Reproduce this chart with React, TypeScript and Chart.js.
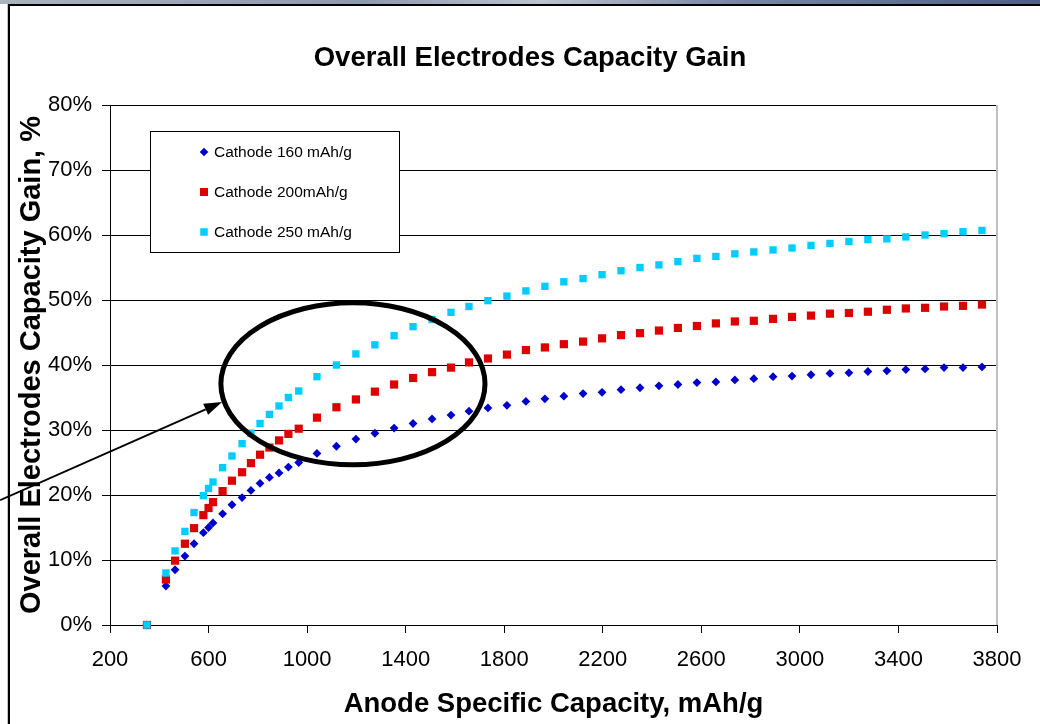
import { useEffect, useRef } from 'react';
import { Chart, registerables } from 'chart.js';

Chart.register(...registerables);

// ---------- data ----------
const anodeCapacity = [
  350, 427, 464, 504, 541, 579, 600, 618, 657, 695, 736, 772, 809, 847, 886, 924, 966,
  1040, 1119, 1198, 1275, 1353, 1430, 1507, 1584, 1657, 1734, 1811, 1888, 1965, 2042,
  2120, 2197, 2274, 2351, 2428, 2505, 2582, 2659, 2736, 2813, 2891, 2968, 3045, 3122,
  3199, 3276, 3353, 3430, 3508, 3585, 3662, 3739,
];
const gainCathode160 = [
  0, 6.0, 8.5, 10.6, 12.5, 14.2, 15.0, 15.7, 17.1, 18.5, 19.6, 20.7, 21.8, 22.7, 23.4, 24.3, 25.0,
  26.4, 27.5, 28.6, 29.5, 30.3, 31.0, 31.7, 32.3, 32.9, 33.4, 33.8, 34.4, 34.8, 35.2,
  35.6, 35.8, 36.2, 36.5, 36.8, 37.0, 37.3, 37.4, 37.7, 37.9, 38.2, 38.3, 38.5, 38.7,
  38.8, 39.0, 39.1, 39.3, 39.4, 39.6, 39.6, 39.7,
];
const gainCathode200 = [
  0, 7.0, 9.9, 12.5, 14.9, 16.9, 18.0, 18.9, 20.6, 22.2, 23.5, 24.9, 26.2, 27.3, 28.4, 29.4, 30.2,
  31.9, 33.5, 34.7, 35.9, 37.0, 38.0, 38.9, 39.6, 40.4, 41.0, 41.6, 42.3, 42.7, 43.2,
  43.6, 44.1, 44.6, 44.9, 45.3, 45.7, 46.0, 46.4, 46.7, 46.8, 47.1, 47.4, 47.6, 47.9,
  48.0, 48.2, 48.5, 48.7, 48.8, 49.0, 49.1, 49.3,
];
const gainCathode250 = [
  0, 8.0, 11.4, 14.4, 17.3, 19.9, 21.0, 22.0, 24.2, 26.0, 27.9, 29.5, 31.0, 32.4, 33.7, 35.0, 36.0,
  38.2, 40.0, 41.7, 43.1, 44.5, 45.9, 47.0, 48.1, 49.0, 49.9, 50.6, 51.4, 52.1, 52.8,
  53.3, 53.9, 54.5, 55.0, 55.4, 55.9, 56.4, 56.7, 57.1, 57.4, 57.7, 58.0, 58.4, 58.7,
  59.0, 59.3, 59.4, 59.7, 60.0, 60.2, 60.5, 60.7,
];
const seriesLabels = ['Cathode 160 mAh/g', 'Cathode 200mAh/g', 'Cathode 250 mAh/g'];
const chartTitle = 'Overall Electrodes Capacity Gain';
const xTitle = 'Anode Specific Capacity, mAh/g';
const yTitle = 'Overall Electrodes Capacity Gain, %';
const xMin = 200;
const xMax = 3800;
const xStep = 400;
const yMin = 0;
const yMax = 80;
const yStep = 10;

// annotation (ellipse + arrow) in data units
const ellipseCenter = { x: 1186, y: 37.1 };
const ellipseRadius = { x: 536, y: 12.46 };
const arrowFrom = { x: -246, y: 19.2 };
const arrowTo = { x: 655, y: 34.3 };

const FONT = '"Liberation Sans", Arial, Helvetica, sans-serif';

const toPoints = (ys: number[]) => anodeCapacity.map((x, i) => ({ x, y: ys[i] }));

const boxLegend = {
  id: 'boxLegend',
  afterDraw(chart: any) {
    const { ctx, chartArea } = chart;
    const x0 = chartArea.left + 40;
    const y0 = chartArea.top + 26;
    const w = 249;
    const h = 121;
    ctx.save();
    ctx.fillStyle = '#ffffff';
    ctx.fillRect(x0, y0, w, h);
    ctx.strokeStyle = '#000000';
    ctx.lineWidth = 1;
    ctx.strokeRect(x0 + 0.5, y0 + 0.5, w, h);
    chart.data.datasets.forEach((ds: any, i: number) => {
      if (!ds.label) return;
      const cy = y0 + 21 + i * 40;
      const cx = x0 + 54;
      ctx.fillStyle = ds.backgroundColor;
      ctx.beginPath();
      if (ds.pointStyle === 'rectRot') {
        const r = 4.3;
        ctx.moveTo(cx - r, cy);
        ctx.lineTo(cx, cy - r);
        ctx.lineTo(cx + r, cy);
        ctx.lineTo(cx, cy + r);
        ctx.closePath();
      } else {
        const s = ds.legendSize;
        ctx.rect(cx - s / 2, cy - s / 2, s, s);
      }
      ctx.fill();
      ctx.fillStyle = '#000000';
      ctx.font = `15.5px ${FONT}`;
      ctx.textBaseline = 'middle';
      ctx.textAlign = 'left';
      ctx.fillText(ds.label, x0 + 64, cy + 1);
    });
    ctx.restore();
  },
};

const plotBorder = {
  id: 'plotBorder',
  beforeDatasetsDraw(chart: any) {
    const { ctx, chartArea } = chart;
    ctx.save();
    ctx.strokeStyle = '#c0c0c0';
    ctx.lineWidth = 2;
    ctx.beginPath();
    ctx.moveTo(chartArea.right, chartArea.top);
    ctx.lineTo(chartArea.right, chartArea.bottom);
    ctx.stroke();
    ctx.restore();
  },
};

const annotations = {
  id: 'annotations',
  afterDraw(chart: any) {
    const { ctx } = chart;
    const xs = chart.scales.x;
    const ys = chart.scales.y;
    const cx = xs.getPixelForValue(ellipseCenter.x);
    const cy = ys.getPixelForValue(ellipseCenter.y);
    const rx = Math.abs(xs.getPixelForValue(ellipseCenter.x + ellipseRadius.x) - cx);
    const ry = Math.abs(ys.getPixelForValue(ellipseCenter.y + ellipseRadius.y) - cy);
    ctx.save();
    ctx.strokeStyle = '#000000';
    ctx.lineWidth = 5;
    ctx.beginPath();
    ctx.ellipse(cx, cy, rx, ry, 0, 0, Math.PI * 2);
    ctx.stroke();

    const x1 = xs.getPixelForValue(arrowFrom.x);
    const y1 = ys.getPixelForValue(arrowFrom.y);
    const x2 = xs.getPixelForValue(arrowTo.x);
    const y2 = ys.getPixelForValue(arrowTo.y);
    const ang = Math.atan2(y2 - y1, x2 - x1);
    const headLen = 18;
    const headHalf = 6;
    const bx = x2 - headLen * Math.cos(ang);
    const by = y2 - headLen * Math.sin(ang);
    ctx.lineWidth = 2;
    ctx.beginPath();
    ctx.moveTo(x1, y1);
    ctx.lineTo(bx, by);
    ctx.stroke();
    ctx.fillStyle = '#000000';
    ctx.beginPath();
    ctx.moveTo(x2, y2);
    ctx.lineTo(bx + headHalf * Math.sin(ang), by - headHalf * Math.cos(ang));
    ctx.lineTo(bx - headHalf * Math.sin(ang), by + headHalf * Math.cos(ang));
    ctx.closePath();
    ctx.fill();
    ctx.restore();
  },
};

export default function App() {
  const canvasRef = useRef<HTMLCanvasElement | null>(null);

  useEffect(() => {
    if (!canvasRef.current) return;
    Chart.defaults.font.family = FONT;
    Chart.defaults.color = '#000000';
    const chart = new Chart(canvasRef.current, {
      type: 'scatter',
      data: {
        datasets: [
          {
            label: seriesLabels[0],
            data: toPoints(gainCathode160),
            pointStyle: 'rectRot',
            pointRadius: 4.4,
            backgroundColor: '#0000cc',
            borderColor: '#0000cc',
            borderWidth: 0,
            order: 2,
            clip: false,
          } as any,
          {
            label: seriesLabels[1],
            data: toPoints(gainCathode200),
            pointStyle: 'rect',
            pointRadius: 5.8,
            backgroundColor: '#dd0000',
            borderColor: '#dd0000',
            borderWidth: 0,
            legendSize: 8,
            order: 1,
            clip: false,
          } as any,
          {
            label: seriesLabels[2],
            data: toPoints(gainCathode250),
            pointStyle: 'rect',
            pointRadius: 5.2,
            backgroundColor: '#00ccff',
            borderColor: '#00ccff',
            borderWidth: 0,
            legendSize: 7.5,
            order: 0,
            clip: false,
          } as any,
        ],
      },
      options: {
        animation: false,
        responsive: false,
        devicePixelRatio: 1,
        layout: { padding: { left: 0, right: 0, top: 0, bottom: 0 } },
        plugins: {
          legend: { display: false },
          tooltip: { enabled: false },
          title: {
            display: true,
            text: chartTitle,
            color: '#000000',
            font: { size: 27.5, weight: 'bold', family: FONT },
            padding: { top: 42, bottom: 30 },
          },
        },
        scales: {
          x: {
            type: 'linear',
            min: xMin,
            max: xMax,
            afterFit: (scale: any) => {
              scale.height = 99;
            },
            ticks: {
              stepSize: xStep,
              color: '#000000',
              font: { size: 22, family: FONT },
              padding: 14,
              maxRotation: 0,
              autoSkip: false,
              callback: (v: any) => String(v),
            },
            grid: {
              drawOnChartArea: false,
              drawTicks: true,
              tickLength: 8,
              color: '#000000',
            },
            border: { color: '#000000', width: 1 },
            title: {
              display: true,
              text: xTitle,
              color: '#000000',
              font: { size: 27.5, weight: 'bold', family: FONT },
              padding: { top: 0, bottom: 3 },
            },
          },
          y: {
            type: 'linear',
            min: yMin,
            max: yMax,
            afterFit: (scale: any) => {
              scale.width = 110;
            },
            ticks: {
              stepSize: yStep,
              color: '#000000',
              font: { size: 22, family: FONT },
              padding: 10,
              callback: (v: any) => `${v}%`,
            },
            grid: {
              drawOnChartArea: true,
              drawTicks: true,
              tickLength: 8,
              color: '#000000',
            },
            border: { color: '#000000', width: 1 },
            title: {
              display: true,
              text: yTitle,
              color: '#000000',
              font: { size: 29, weight: 'bold', family: FONT },
              padding: { top: 15, bottom: 0 },
            },
          },
          yRight: {
            type: 'linear',
            position: 'right',
            display: true,
            min: yMin,
            max: yMax,
            afterFit: (scale: any) => {
              scale.width = 63;
            },
            ticks: { display: false },
            grid: { display: false, drawTicks: false },
            border: { display: false },
          },
        },
      },
      plugins: [plotBorder, boxLegend, annotations],
    } as any);
    return () => {
      chart.destroy();
    };
  }, []);

  return (
    <div
      style={{
        position: 'fixed',
        left: 0,
        top: 0,
        width: 1040,
        height: 724,
        overflow: 'hidden',
        background: '#ffffff',
      }}
    >
      <div
        style={{
          position: 'absolute',
          left: 0,
          top: 0,
          width: 1040,
          height: 4,
          background:
            'linear-gradient(90deg, #aab2bd 0%, #8d99ae 35%, #bcc3ce 52%, #7a88a6 70%, #4f5e87 100%)',
        }}
      />
      <div style={{ position: 'absolute', left: 7, top: 4, width: 1, height: 720, background: '#c4c4c4' }} />
      <div
        style={{
          position: 'absolute',
          left: 8,
          top: 4,
          width: 1040,
          height: 720,
          borderLeft: '2px solid #000',
          borderTop: '2px solid #000',
          boxSizing: 'border-box',
        }}
      />
      <canvas
        ref={canvasRef}
        width={1060}
        height={724}
        style={{ position: 'absolute', left: 0, top: 0, width: 1060, height: 724 }}
      />
    </div>
  );
}
